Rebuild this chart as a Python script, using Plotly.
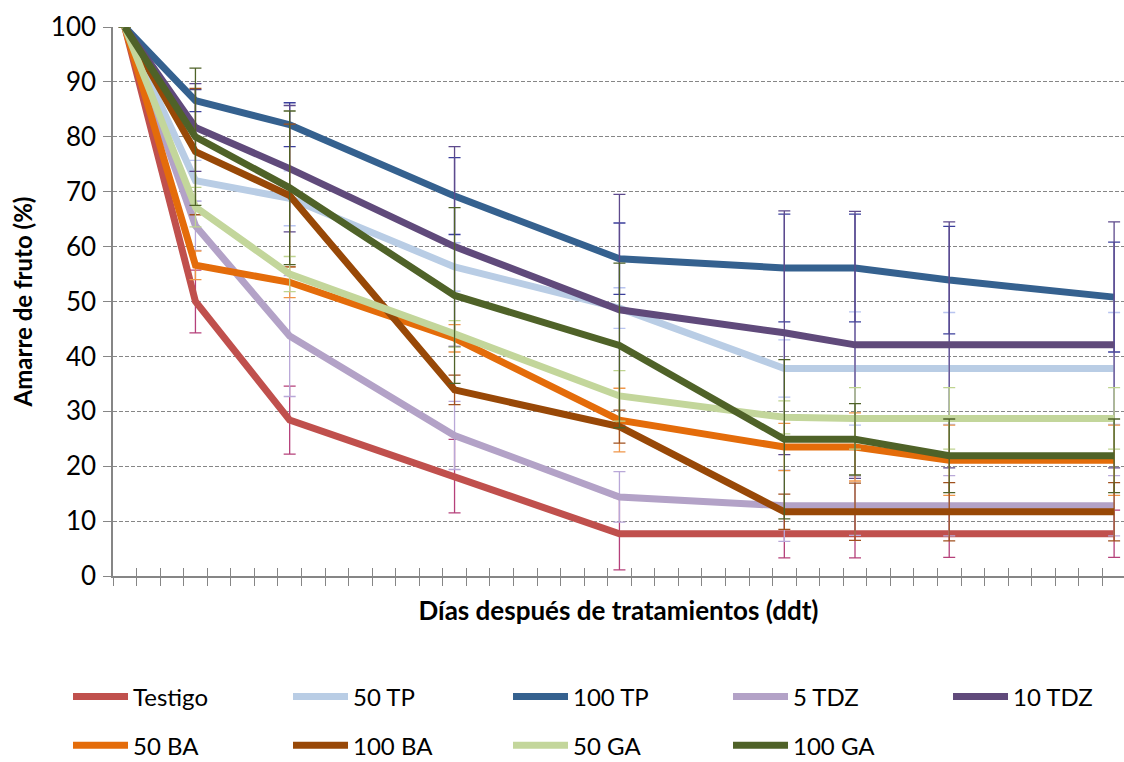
import plotly.graph_objects as go

# Days after treatment (category positions on a 0..42 day axis)
days = [0, 3, 7, 14, 21, 28, 31, 35, 42]

names = ["Testigo", "50 TP", "100 TP", "5 TDZ", "10 TDZ",
         "50 BA", "100 BA", "50 GA", "100 GA"]

testigo = [100, 50.0, 28.4, 18.2, 7.7, 7.7, 7.7, 7.7, 7.7]
tp50 = [100, 72.0, 68.8, 56.3, 48.8, 37.8, 37.8, 37.8, 37.8]
tp100 = [100, 86.6, 82.2, 69.2, 57.8, 56.1, 56.1, 53.9, 50.8]
tdz5 = [100, 63.8, 43.7, 25.6, 14.4, 12.8, 12.8, 12.8, 12.8]
tdz10 = [100, 81.7, 74.2, 60.0, 48.5, 44.3, 42.1, 42.1, 42.1]
ba50 = [100, 56.6, 53.5, 43.3, 28.4, 23.5, 23.5, 21.1, 21.1]
ba100 = [100, 77.3, 69.3, 33.9, 27.2, 11.7, 11.7, 11.7, 11.7]
ga50 = [100, 67.2, 55.0, 44.1, 32.8, 28.9, 28.7, 28.7, 28.7]
ga100 = [100, 80.0, 70.7, 51.1, 42.0, 24.9, 24.9, 21.9, 21.9]

testigo_err = [None, 5.7, 6.2, 6.7, 6.6, 4.4, 4.4, 4.3, 4.3]
tp50_err = [None, 3.7, 5.0, 4.4, 3.7, 5.2, 10.3, 10.2, 10.2]
tp100_err = [None, 2.0, 4.0, 7.0, 6.5, 9.8, 9.8, 9.8, 10.0]
tdz5_err = [None, 4.5, 11.0, 6.2, 4.6, 6.5, 5.4, 5.5, 5.5]
tdz10_err = [None, 8.0, 11.5, 18.2, 21.0, 22.2, 24.3, 22.4, 22.4]
ba50_err = [None, 2.6, 2.8, 2.5, 5.8, 4.3, 6.2, 6.4, 6.4]
ba100_err = [None, 11.5, 13.0, 2.7, 3.0, 3.2, 5.2, 5.3, 5.3]
ga50_err = [None, 3.6, 3.2, 2.4, 4.6, 3.0, 5.6, 5.6, 5.6]
ga100_err = [None, 12.5, 14.0, 16.0, 15.0, 14.5, 6.5, 6.7, 6.7]

values = [testigo, tp50, tp100, tdz5, tdz10, ba50, ba100, ga50, ga100]
errors = [testigo_err, tp50_err, tp100_err, tdz5_err, tdz10_err,
          ba50_err, ba100_err, ga50_err, ga100_err]

line_colors = ["#C0504D", "#B9CDE5", "#35618F", "#B3A2C7", "#604A7B",
               "#E46C0A", "#984807", "#C3D69B", "#4F6228"]
err_colors = ["#B5407A", "#B8C4F0", "#3B3F9C", "#B9A8D8", "#5E4A8C",
              "#F0964A", "#A0501E", "#BFD490", "#4F6228"]
legend_ids = ["legend"] * 5 + ["legend2"] * 4

FONT = "Lato"
AX = "#868686"

fig = go.Figure()
for name, vals, errs, lc, ec, lg in zip(names, values, errors,
                                        line_colors, err_colors, legend_ids):
    fig.add_trace(go.Scatter(
        x=days, y=vals, mode="lines", name=name, legend=lg,
        line=dict(color=lc, width=7),
        error_y=dict(type="data", array=errs, visible=True,
                     color=ec, thickness=1.3, width=6),
    ))

# empty helper trace so the overlaid axis (inner half of crossing ticks) is drawn
fig.add_trace(go.Scatter(x=[], y=[], xaxis="x2", yaxis="y",
                         showlegend=False, hoverinfo="skip"))

xr = [-0.5, 42.42]
fig.update_layout(
    width=1124, height=762,
    margin=dict(l=113, r=0, t=27, b=186, autoexpand=False),
    paper_bgcolor="white", plot_bgcolor="white",
    font=dict(family=FONT, color="black", size=20),
    showlegend=True,
    xaxis=dict(
        range=xr, tickmode="linear", tick0=-0.5, dtick=1,
        ticks="outside", ticklen=8, tickwidth=1.3, tickcolor=AX,
        showticklabels=False, showline=True, linecolor=AX, linewidth=1.5,
        showgrid=False, zeroline=False,
        title=dict(text="<b>Días después de tratamientos (ddt)</b>",
                   font=dict(family=FONT, size=26), standoff=17),
    ),
    xaxis2=dict(
        overlaying="x", anchor="y", side="bottom", range=xr,
        tickmode="linear", tick0=-0.5, dtick=1,
        ticks="inside", ticklen=8, tickwidth=1.3, tickcolor=AX,
        showticklabels=False, showline=False, showgrid=False, zeroline=False,
    ),
    yaxis=dict(
        range=[0, 100], tickmode="linear", tick0=0, dtick=10,
        ticks="outside", ticklen=8, tickwidth=1.3, tickcolor=AX,
        ticklabelstandoff=2,
        showline=True, linecolor=AX, linewidth=1.5,
        showgrid=True, gridcolor=AX, gridwidth=1.2, griddash="4px,2px",
        zeroline=False, tickfont=dict(size=26),
        title=dict(text="<b>Amarre de fruto (%)</b>",
                   font=dict(family=FONT, size=24), standoff=11),
    ),
    legend=dict(orientation="h", x=-0.0445, xanchor="left",
                y=-0.2204, yanchor="middle", entrywidth=150, itemwidth=55,
                font=dict(size=24), bgcolor="rgba(0,0,0,0)"),
    legend2=dict(orientation="h", x=-0.0445, xanchor="left",
                 y=-0.309, yanchor="middle", entrywidth=150, itemwidth=55,
                 font=dict(size=24), bgcolor="rgba(0,0,0,0)"),
)

fig.write_html("out.html")
